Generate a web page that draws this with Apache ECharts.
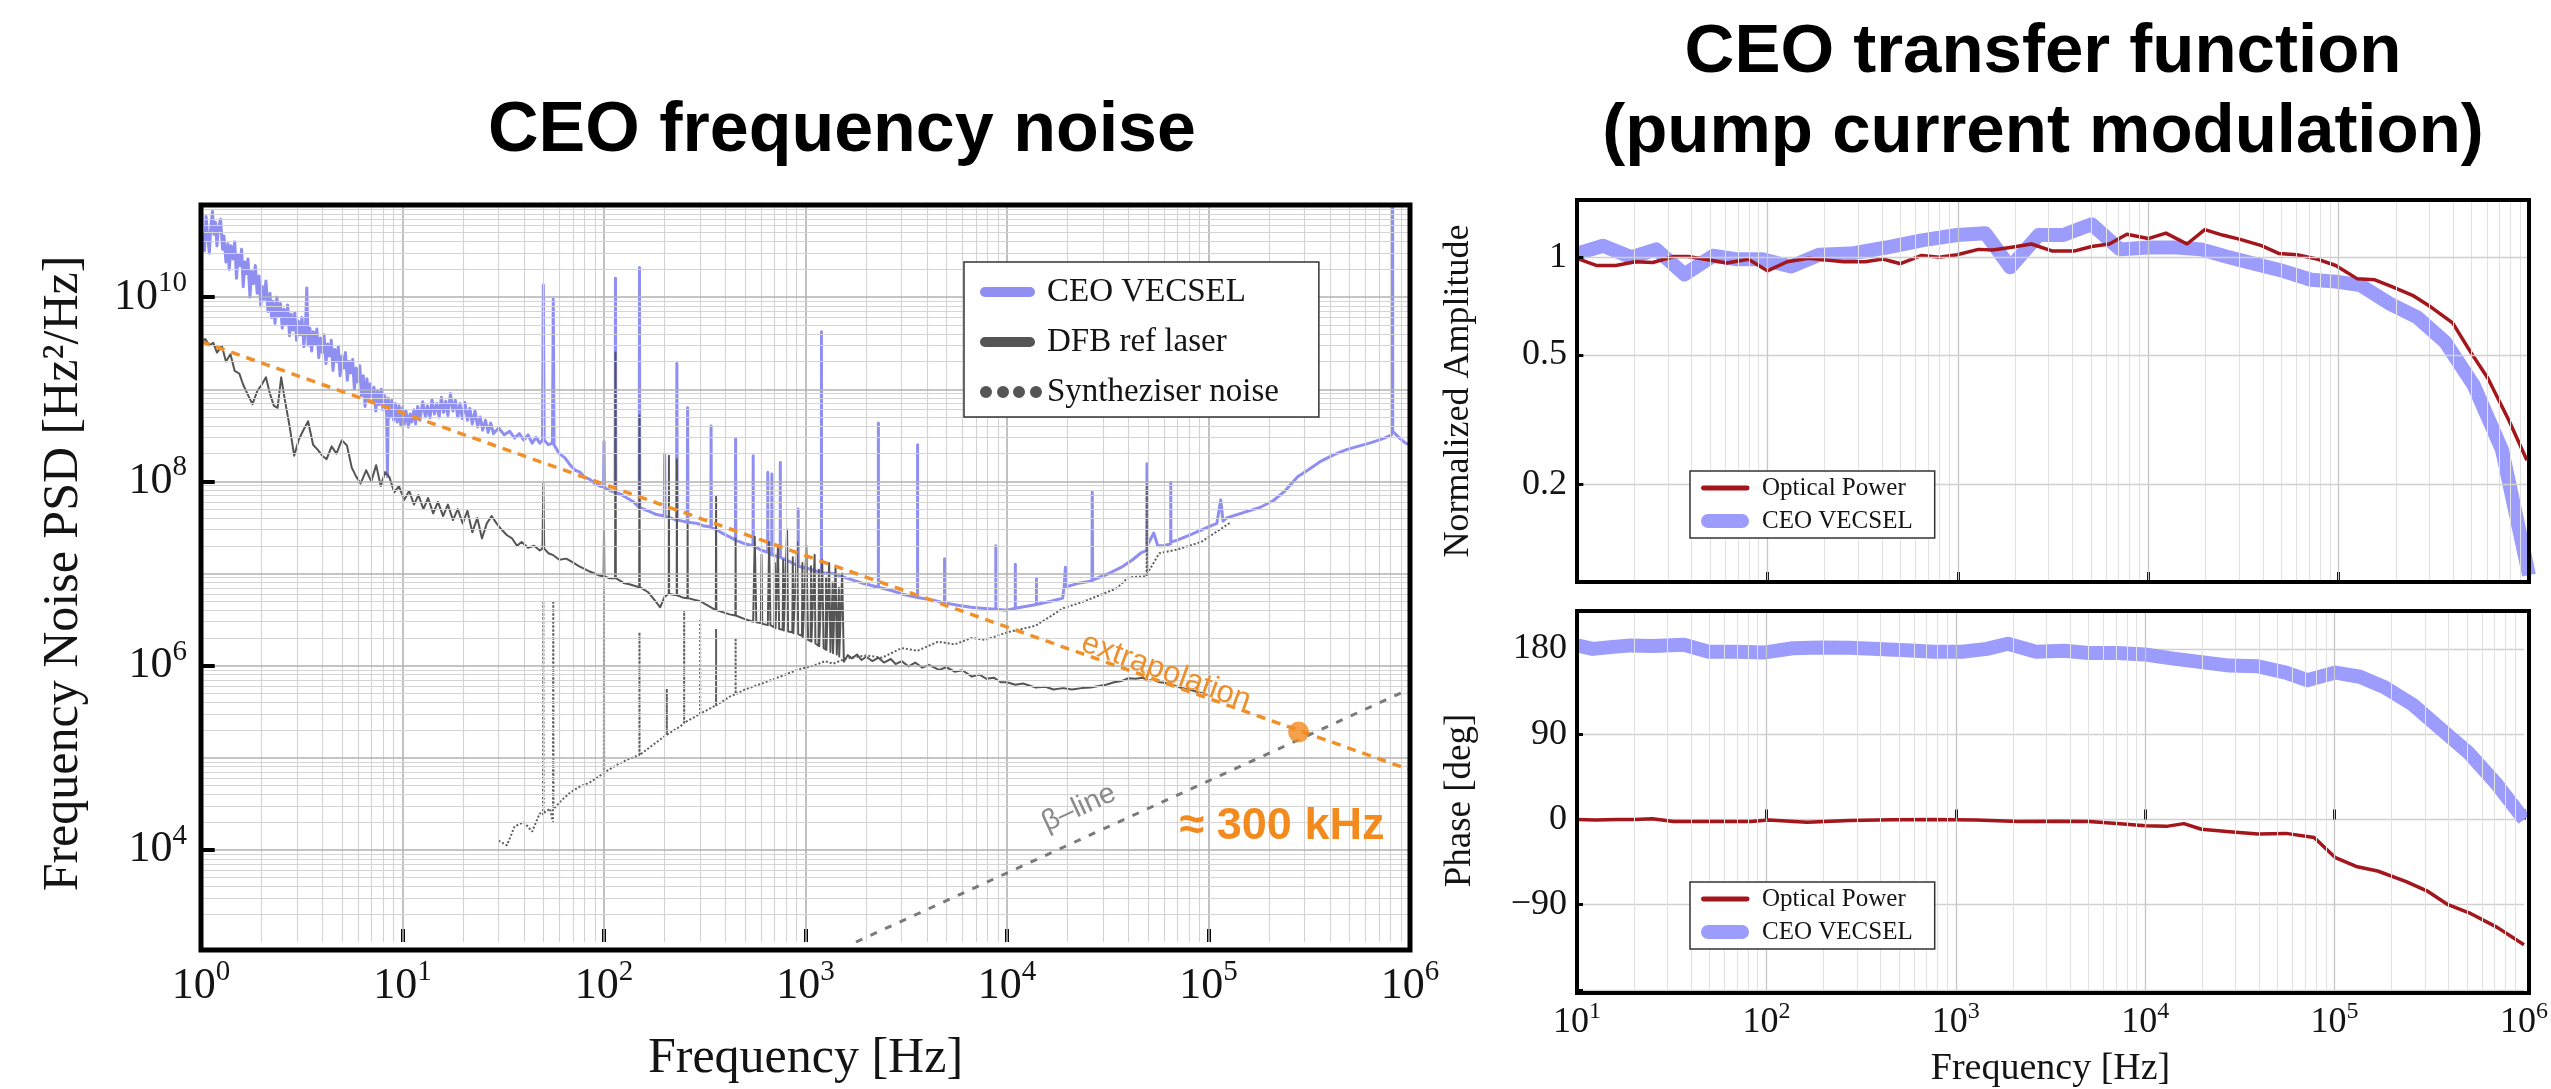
<!DOCTYPE html>
<html>
<head>
<meta charset="utf-8">
<title>CEO frequency noise / CEO transfer function</title>
<script src="https://cdn.jsdelivr.net/npm/echarts@6.0.0/dist/echarts.min.js"></script>
<style>
  html, body { margin: 0; padding: 0; background: #fff; }
  #chart { width: 2551px; height: 1089px; }
</style>
</head>
<body>
<div id="chart"></div>
<script>
// ---- left panel: CEO frequency noise PSD, [Hz, Hz^2/Hz] ----
const vecselNoise = [
  [1.00, 2.8e10], [1.02, 5.0e10], [1.04, 3.2e10], [1.06, 7.5e10], [1.08, 4.5e10], [1.10, 3.0e10],
  [1.12, 6.0e10], [1.14, 8.5e10], [1.16, 4.8e10], [1.18, 6.5e10], [1.20, 3.6e10], [1.22, 5.5e10],
  [1.25, 7.0e10], [1.28, 3.3e10], [1.30, 4.6e10], [1.33, 2.4e10], [1.36, 3.8e10], [1.38, 2.0e10],
  [1.41, 3.6e10], [1.44, 2.6e10], [1.47, 4.0e10], [1.50, 1.6e10], [1.53, 2.9e10], [1.56, 2.2e10],
  [1.59, 3.3e10], [1.62, 1.3e10], [1.65, 2.4e10], [1.68, 1.8e10], [1.71, 2.6e10], [1.75, 1.0e10],
  [1.78, 1.9e10], [1.82, 1.4e10], [1.86, 2.2e10], [1.90, 1.1e10], [1.94, 1.7e10], [1.98, 8.0e9],
  [2.02, 1.3e10], [2.06, 9.5e9], [2.10, 1.5e10], [2.15, 7.0e9], [2.20, 1.1e10], [2.24, 6.0e9],
  [2.28, 9.0e9], [2.33, 5.2e9], [2.38, 1.0e10], [2.43, 6.2e9], [2.48, 8.5e9], [2.53, 4.6e9],
  [2.58, 7.4e9], [2.63, 5.0e9], [2.69, 8.2e9], [2.75, 3.8e9], [2.80, 6.5e9], [2.86, 4.4e9],
  [2.92, 6.8e9], [2.98, 3.4e9], [3.04, 5.5e9], [3.10, 3.9e9], [3.17, 6.0e9], [3.24, 2.9e9],
  [3.30, 4.8e9], [3.35, 1.26e10], [3.40, 3.0e9], [3.47, 4.6e9], [3.54, 2.6e9], [3.61, 4.2e9],
  [3.68, 3.1e9], [3.76, 4.5e9], [3.84, 2.2e9], [3.92, 3.6e9], [4.00, 2.5e9], [4.08, 3.9e9],
  [4.17, 1.9e9], [4.25, 3.1e9], [4.34, 2.3e9], [4.43, 3.4e9], [4.52, 1.6e9], [4.61, 2.7e9],
  [4.71, 2.0e9], [4.80, 2.9e9], [4.90, 1.4e9], [5.00, 2.3e9], [5.11, 1.7e9], [5.21, 2.5e9],
  [5.32, 1.25e9], [5.43, 2.0e9], [5.54, 1.5e9], [5.66, 2.1e9], [5.77, 1.0e9], [5.89, 1.7e9],
  [6.01, 1.2e9], [6.14, 1.8e9], [6.26, 8.5e8], [6.39, 1.4e9], [6.52, 6.5e8], [6.66, 1.3e9],
  [6.79, 8.0e8], [6.93, 1.15e9], [7.08, 7.5e8], [7.22, 1.05e9], [7.37, 5.8e8], [7.52, 9.5e8],
  [7.68, 6.8e8], [7.84, 1.0e9], [8.00, 6.0e8], [8.17, 8.5e8], [8.34, 5.5e8], [8.42, 1.12e8],
  [8.50, 8.0e8], [8.68, 5.0e8], [8.86, 7.6e8], [9.04, 4.6e8], [9.23, 7.0e8], [9.42, 4.4e8],
  [9.62, 6.6e8], [9.82, 4.0e8], [10.0, 6.3e8], [10.2, 4.2e8], [10.4, 5.8e8], [10.7, 3.9e8],
  [10.9, 5.4e8], [11.1, 4.4e8], [11.4, 6.0e8], [11.6, 4.2e8], [11.9, 6.5e8], [12.2, 4.6e8],
  [12.6, 7.3e8], [13.0, 5.0e8], [13.3, 6.6e8], [13.7, 4.9e8], [14.0, 7.8e8], [14.4, 5.4e8],
  [14.8, 7.0e8], [15.2, 5.0e8], [15.6, 8.2e8], [16.0, 5.6e8], [16.4, 7.4e8], [16.8, 5.2e8],
  [17.3, 9.0e8], [17.8, 5.8e8], [18.3, 7.6e8], [18.8, 5.0e8], [19.3, 7.0e8], [19.8, 4.8e8],
  [20.4, 7.2e8], [21.0, 4.6e8], [21.6, 6.2e8], [22.2, 4.2e8], [22.9, 5.8e8], [23.6, 3.9e8],
  [24.3, 5.0e8], [25.0, 3.6e8], [25.8, 4.6e8], [26.6, 3.4e8], [27.4, 4.3e8], [28.3, 3.3e8],
  [30.0, 3.8e8], [32, 3.2e8], [34, 3.5e8], [36, 2.95e8], [38, 3.3e8], [40, 2.8e8],
  [42, 3.2e8], [44, 2.6e8], [46, 3.0e8], [48, 2.6e8], [49.5, 2.8e8], [50, 1.35e10],
  [50.5, 2.8e8], [53, 2.5e8], [55.5, 2.6e8], [56, 9.5e9], [56.5, 2.5e8], [60, 2.0e8],
  [64, 1.8e8], [68, 1.5e8], [72, 1.32e8], [76, 1.26e8], [80, 1.12e8], [85, 1.05e8],
  [90, 9.5e7], [95, 8.9e7], [99.5, 8.7e7], [100, 2.7e8], [100.5, 8.5e7], [108, 7.9e7],
  [113.5, 7.6e7], [114, 1.6e10], [114.5, 7.6e7], [122, 7.2e7], [130, 6.6e7], [140, 6.0e7],
  [149.5, 5.2e7], [150, 2.1e10], [150.5, 5.2e7], [165, 4.8e7], [180, 4.4e7], [199, 4.2e7],
  [200, 2.0e8], [201, 4.2e7], [215, 4.0e7], [229, 3.8e7], [230, 1.9e9], [231, 3.8e7],
  [245, 3.7e7], [259, 3.6e7], [260, 6.3e8], [261, 3.6e7], [290, 3.5e7], [310, 3.3e7],
  [339, 3.2e7], [340, 4.0e8], [341, 3.2e7], [380, 2.8e7], [420, 2.5e7], [449, 2.3e7],
  [450, 2.9e8], [451, 2.3e7], [500, 2.1e7], [549, 2.0e7], [550, 1.9e8], [551, 2.0e7],
  [600, 1.8e7], [649, 1.7e7], [650, 1.26e8], [651, 1.7e7], [680, 1.6e7], [681, 1.2e8],
  [682, 1.6e7], [749, 1.5e7], [750, 1.6e8], [751, 1.5e7], [850, 1.32e7], [919, 1.2e7],
  [920, 5.0e7], [921, 1.2e7], [1050, 1.12e7], [1199, 1.02e7], [1200, 4.2e9], [1201, 1.02e7],
  [1370, 1.0e7], [1600, 8.9e6], [1900, 7.9e6], [2299, 7.1e6], [2300, 4.3e8], [2301, 7.1e6],
  [2700, 6.5e6], [3000, 6.0e6], [3599, 5.5e6], [3600, 2.5e8], [3601, 5.5e6], [4200, 5.2e6],
  [4899, 4.8e6], [4900, 1.45e7], [4901, 4.8e6], [5800, 4.5e6], [6600, 4.3e6], [7500, 4.2e6],
  [8799, 4.1e6], [8800, 2.0e7], [8801, 4.1e6], [10000, 4.0e6], [10999, 4.2e6], [11000, 1.26e7],
  [11001, 4.2e6], [12500, 4.4e6], [13999, 4.6e6], [14000, 8.9e6], [14001, 4.6e6], [16500, 5.0e6],
  [18900, 5.4e6], [19200, 7.2e6], [19500, 1.17e7], [19800, 7.2e6], [23000, 7.9e6], [26400, 8.3e6],
  [26500, 7.6e7], [26600, 8.5e6], [32000, 1.0e7], [37000, 1.17e7], [42000, 1.41e7], [46000, 1.66e7],
  [49400, 1.78e7], [49500, 1.55e8], [49600, 2.0e7], [53500, 2.75e7], [56000, 2.0e7], [60000, 2.0e7],
  [64900, 2.1e7], [65000, 9.8e7], [65100, 2.2e7], [70000, 2.3e7], [80000, 2.6e7], [90000, 2.9e7],
  [100000, 3.2e7], [110000, 3.5e7], [115000, 6.3e7], [118000, 3.7e7], [123000, 4.0e7], [150000, 4.6e7],
  [180000, 5.2e7], [210000, 6.2e7], [240000, 7.9e7], [277000, 1.12e8], [320000, 1.38e8], [362000, 1.66e8],
  [420000, 1.95e8], [480000, 2.2e8], [550000, 2.4e8], [630000, 2.6e8], [700000, 2.8e8], [745000, 2.95e8],
  [810000, 3.2e8], [819000, 3.2e8], [820000, 1.6e11], [821000, 3.5e8], [880000, 3.0e8], [950000, 2.6e8],
  [1000000, 2.5e8]
];

const dfbNoise = [
  [1.0, 3.3e9], [1.05, 3.5e9], [1.1, 3.0e9], [1.15, 3.2e9], [1.2, 2.5e9], [1.27, 2.95e9],
  [1.33, 2.0e9], [1.4, 2.4e9], [1.47, 1.58e9], [1.55, 1.48e9], [1.62, 1.12e9], [1.7, 8.9e8],
  [1.8, 6.9e8], [1.9, 9.5e8], [2.0, 1.12e9], [2.1, 1.35e9], [2.2, 8.9e8], [2.3, 6.6e8],
  [2.4, 6.3e8], [2.5, 1.35e9], [2.6, 7.9e8], [2.75, 4.0e8], [2.9, 1.9e8], [3.05, 2.8e8],
  [3.2, 3.5e8], [3.4, 4.5e8], [3.6, 2.5e8], [3.8, 2.2e8], [4.0, 1.9e8], [4.2, 1.74e8],
  [4.45, 2.4e8], [4.7, 2.0e8], [5.0, 2.8e8], [5.3, 2.45e8], [5.6, 1.41e8], [5.9, 1.12e8],
  [6.2, 9.5e7], [6.6, 1.32e8], [7.0, 1.0e8], [7.4, 1.5e8], [7.8, 8.9e7], [8.2, 1.26e8],
  [8.6, 1.12e8], [9.1, 7.6e7], [9.6, 8.9e7], [10.2, 6.3e7], [10.8, 7.9e7], [11.4, 5.6e7],
  [12.0, 7.1e7], [12.7, 5.0e7], [13.4, 6.6e7], [14.2, 4.5e7], [15.0, 6.0e7], [15.9, 4.2e7],
  [16.8, 5.6e7], [17.8, 3.8e7], [18.8, 5.0e7], [19.9, 3.5e7], [21.0, 4.8e7], [22.2, 2.8e7],
  [23.5, 4.0e7], [24.8, 2.4e7], [26.2, 3.5e7], [27.7, 4.2e7], [29.3, 3.5e7], [31, 3.0e7],
  [33, 2.6e7], [35, 2.4e7], [37, 2.0e7], [39, 2.2e7], [42, 1.9e7], [45, 2.0e7],
  [48, 1.78e7], [49.5, 1.86e7], [50, 9.5e7], [50.5, 1.86e7], [53, 1.66e7], [56, 1.58e7],
  [60, 1.41e7], [65, 1.45e7], [70, 1.32e7], [75, 1.2e7], [80, 1.12e7], [85, 1.05e7],
  [90, 1.0e7], [95, 9.5e6], [99.5, 9.3e6], [100, 2.9e7], [100.5, 9.3e6], [106, 8.9e6],
  [113.5, 8.9e6], [114, 2.5e9], [114.5, 8.9e6], [125, 7.9e6], [135, 7.6e6], [149.5, 7.1e6],
  [150, 5.2e8], [150.5, 7.1e6], [165, 6.3e6], [180, 5.0e6], [190, 4.3e6], [200, 5.6e6],
  [209.5, 6.0e6], [210, 1.9e8], [210.5, 6.0e6], [229.5, 5.8e6], [230, 1.74e8], [230.5, 5.8e6],
  [245, 5.5e6], [259.5, 5.4e6], [260, 3.4e7], [260.5, 5.4e6], [300, 5.0e6], [359, 4.0e6],
  [360, 6.8e7], [361, 4.0e6], [420, 3.6e6], [449, 3.5e6], [450, 2.4e7], [451, 3.5e6],
  [500, 3.2e6], [550, 3.0e6], [560, 2.5e7], [570, 2.95e6], [600, 2.9e6], [605, 1.6e7],
  [610, 2.85e6], [650, 2.75e6], [660, 2.2e7], [670, 2.75e6], [700, 2.6e6], [705, 1.3e7],
  [710, 2.55e6], [730, 2.0e7], [740, 2.5e6], [770, 2.45e6], [775, 1.4e7], [780, 2.4e6],
  [810, 3.0e7], [820, 2.35e6], [860, 2.3e6], [865, 1.5e7], [870, 2.25e6], [910, 2.2e7],
  [920, 2.2e6], [960, 2.1e6], [965, 1.3e7], [970, 2.05e6], [1010, 2.0e7], [1030, 1.9e6],
  [1060, 1.85e6], [1065, 1.2e7], [1070, 1.82e6], [1110, 1.6e7], [1120, 1.74e6], [1160, 1.65e6],
  [1165, 1.1e7], [1170, 1.62e6], [1210, 1.4e7], [1230, 1.55e6], [1260, 1.5e6], [1265, 9.0e6],
  [1270, 1.48e6], [1310, 1.3e7], [1330, 1.41e6], [1360, 1.38e6], [1365, 8.0e6], [1370, 1.36e6],
  [1410, 1.2e7], [1430, 1.32e6], [1460, 1.28e6], [1465, 7.0e6], [1470, 1.26e6], [1520, 1.0e7],
  [1550, 1.1e6], [1620, 1.3e6], [1700, 1.2e6], [1800, 1.32e6], [1900, 1.15e6], [2000, 1.25e6],
  [2150, 1.12e6], [2300, 1.22e6], [2450, 1.08e6], [2650, 1.18e6], [2800, 1.04e6], [3000, 1.12e6],
  [3250, 9.8e5], [3500, 1.08e6], [3800, 9.5e5], [4100, 1.02e6], [4600, 9.0e5], [5000, 9.6e5],
  [5500, 8.6e5], [6000, 8.9e5], [6700, 7.6e5], [7300, 8.0e5], [7900, 7.2e5], [8600, 7.4e5],
  [9300, 6.6e5], [10000, 6.6e5], [11000, 6.2e5], [12000, 6.4e5], [13800, 5.8e5], [15500, 5.9e5],
  [17000, 5.5e5], [19000, 5.7e5], [21000, 5.5e5], [23500, 5.7e5], [26000, 5.8e5], [28500, 6.0e5],
  [31000, 6.2e5], [34000, 6.6e5], [37000, 6.8e5], [40000, 7.3e5], [43500, 7.2e5], [47000, 7.4e5],
  [50000, 6.9e5], [53500, 7.0e5], [57000, 6.6e5], [61000, 6.5e5], [66000, 6.2e5], [72000, 5.8e5],
  [79000, 5.5e5], [85000, 5.3e5], [90000, 5.1e5], [98000, 4.9e5]
];

const synthNoise = [
  [30, 1.26e4], [33, 1.12e4], [36, 1.8e4], [40, 2.0e4], [44, 1.58e4], [48, 2.5e4],
  [49.8, 2.4e4], [50, 5.1e6], [50.2, 2.5e4], [54, 2.8e4], [55.8, 2.0e4], [56, 5.1e6],
  [56.2, 2.8e4], [62, 3.5e4], [68, 4.2e4], [75, 4.8e4], [85, 5.4e4], [95, 6.3e4],
  [99.8, 6.9e4], [100, 7.2e6], [100.2, 6.9e4], [115, 8.3e4], [130, 9.5e4], [149.8, 1.07e5],
  [150, 2.3e6], [150.2, 1.07e5], [175, 1.38e5], [204.8, 1.78e5], [205, 5.6e5], [205.2, 1.78e5],
  [240, 2.2e5], [249.8, 2.4e5], [250, 4.0e6], [250.2, 2.4e5], [280, 2.75e5], [299.8, 3.0e5],
  [300, 3.2e6], [300.2, 3.0e5], [350, 3.6e5], [359.8, 3.7e5], [360, 2.5e6], [360.2, 3.7e5],
  [420, 4.6e5], [449.8, 4.9e5], [450, 2.0e6], [450.2, 4.9e5], [500, 5.5e5], [620, 6.5e5],
  [750, 7.6e5], [920, 9.1e5], [1100, 1.0e6], [1250, 1.12e6], [1370, 1.05e6], [1600, 1.2e6],
  [2000, 1.29e6], [2400, 1.22e6], [3000, 1.55e6], [3600, 1.45e6], [4550, 1.82e6], [5500, 1.7e6],
  [6700, 2.0e6], [7800, 1.9e6], [8900, 2.1e6], [10000, 2.3e6], [13800, 2.7e6], [16000, 3.3e6],
  [19000, 4.2e6], [23700, 4.9e6], [35000, 6.9e6], [40000, 9.1e6], [49300, 9.3e6], [49500, 9.3e7],
  [49700, 1.0e7], [57000, 1.66e7], [70000, 1.82e7], [92000, 2.2e7], [129000, 3.6e7]
];

const extrapolationLine = [[1, 3.3e9], [1e6, 7.4e4]];
const betaLine = [[1780, 1.0e3], [1e6, 5.6e5]];
const crossingPoint = [[2.8e5, 1.9e5]];

// ---- right panels: transfer function, [Hz, normalized amplitude] and [Hz, deg] ----
const vecselAmp = [
  [10, 1.026], [13.7, 1.085], [19.3, 1.0], [26.1, 1.057], [36.7, 0.885], [51.8, 1.01],
  [69.8, 0.985], [94.2, 0.985], [133, 0.936], [187, 1.018], [275, 1.026], [421, 1.071],
  [646, 1.127], [991, 1.17], [1396, 1.185], [1884, 0.931], [2653, 1.17], [3580, 1.17],
  [5046, 1.263], [7100, 1.057], [10000, 1.071], [14090, 1.071], [19000, 1.057], [25640, 1.005],
  [36120, 0.955], [50800, 0.908], [71600, 0.852], [96600, 0.841], [130000, 0.82], [183600, 0.722],
  [258700, 0.653], [364000, 0.547], [513000, 0.403], [722000, 0.255], [1000000, 0.105]
];
const opticalAmp = [
  [10, 0.992], [12.6, 0.943], [16, 0.943], [20.2, 0.968], [25, 0.963], [32.3, 1.005],
  [38.3, 1.005], [49.6, 0.98], [61.4, 0.96], [79.4, 0.985], [100, 0.908], [127, 0.968],
  [164, 0.992], [204, 0.98], [252, 0.968], [326, 0.968], [404, 0.987], [500, 0.955],
  [646, 1.013], [800, 1.0], [991, 1.018], [1282, 1.057], [1521, 1.052], [1884, 1.071],
  [2437, 1.098], [3148, 1.044], [4074, 1.044], [5046, 1.079], [6252, 1.098], [7727, 1.176],
  [10000, 1.141], [12390, 1.186], [16000, 1.098], [19820, 1.216], [24550, 1.17], [30400, 1.135],
  [39360, 1.085], [48750, 1.026], [60390, 1.018], [78000, 0.985], [96600, 0.943], [125000, 0.859],
  [155000, 0.852], [192000, 0.81], [248000, 0.76], [307000, 0.701], [397000, 0.628], [491000, 0.513],
  [608000, 0.424], [787000, 0.313], [975000, 0.237]
];
const vecselPhase = [
  [10, 183.7], [12.1, 180], [15, 181.9], [19.3, 183.7], [25, 183], [36.7, 184.4],
  [49.6, 177], [69.8, 177], [98.4, 176.3], [138, 180.7], [195, 181.5], [275, 181.2],
  [387, 180], [545, 178.5], [767, 177], [1080, 177], [1458, 180], [1884, 185.5],
  [2653, 177], [3735, 178], [5046, 175.6], [7100, 175.6], [10000, 174.1], [14090, 169.7],
  [19820, 166], [27900, 162.4], [39360, 161.6], [55370, 155], [71600, 147], [101000, 155],
  [136000, 150.6], [183600, 139.6], [258700, 121.2], [364000, 95.5], [513000, 69.8],
  [722000, 36.7], [1000000, 0]
];
const opticalPhase = [
  [10, 0], [12.6, -0.7], [16.3, 0], [20.2, 0], [25, 0.7], [32.3, -2.2],
  [49.6, -2.2], [82.8, -2.2], [103, -0.7], [164, -2.9], [275, -1.1], [459, -0.4],
  [767, 0], [1282, -0.7], [2143, -2.2], [3580, -1.8], [5046, -2.2], [7100, -4.4],
  [10000, -6.6], [12940, -7.3], [16000, -4.4], [19820, -10.3], [27900, -12.9], [39360, -15.4],
  [55370, -14.7], [78000, -19.1], [101000, -40.4], [130000, -49.6], [168700, -54.4], [237000, -65.4],
  [307000, -75.3], [397000, -90], [513000, -98.5], [722000, -113.9], [1000000, -132.3]
];

const ampTicks = [1, 0.5, 0.2];
const phaseTicks = [180, 90, 0, -90];
const psdLabelExps = [4, 6, 8, 10];

// ---- layout ----
const GRID_L = { left: 201, top: 205, width: 1209, height: 745 };
const GRID_A = { left: 1577, top: 200, width: 952, height: 382 };
const GRID_P = { left: 1577, top: 611, width: 952, height: 382 };

const SERIF = 'Liberation Serif';
const SANS = 'Liberation Sans';
const INK = '#141414';

function supRich(base, sup) {
  return {
    b: { fontFamily: SERIF, fontSize: base, lineHeight: Math.round(base * 1.28), color: INK },
    s: { fontFamily: SERIF, fontSize: sup, lineHeight: sup, verticalAlign: 'top', color: INK }
  };
}
function powLabel(v) {
  return '{b|10}{s|' + Math.round(Math.log10(v)) + '}';
}

// log grid (decades + 2..9 minors) drawn as markLines
function logLines(dim, loExp, hiExp, major, minor) {
  const out = [];
  for (let e = loExp; e <= hiExp; e++) {
    const base = Math.pow(10, e);
    if (e > loExp && e < hiExp) out.push({ [dim]: base, lineStyle: major });
    if (e < hiExp) {
      for (let m = 2; m <= 9; m++) out.push({ [dim]: m * base, lineStyle: minor });
    }
  }
  return out;
}
const majL = { color: '#b2b2b2', width: 1.6, type: 'solid' };
const minL = { color: '#d4d4d4', width: 1.1, type: 'solid' };
const majR = { color: '#c6c6c6', width: 1.3, type: 'solid' };
const minR = { color: '#e2e2e2', width: 1, type: 'solid' };
const tickStyle = { color: '#000', width: 4, type: 'solid' };

const leftGrid = logLines('xAxis', 0, 6, majL, minL).concat(logLines('yAxis', 3, 11, majL, minL));
psdLabelExps.forEach(e => {
  const v = Math.pow(10, e);
  leftGrid.push([{ coord: [1, v], lineStyle: tickStyle }, { coord: [1.17, v] }]);
});

const ampGrid = logLines('xAxis', 1, 6, majR, minR);
ampTicks.forEach(v => {
  ampGrid.push({
    yAxis: v,
    lineStyle: { color: '#d0d0d0', width: 1.3, type: 'solid' },
    label: { show: true, position: 'start', distance: 10, formatter: String(v),
             fontFamily: SERIF, fontSize: 36, color: INK }
  });
  ampGrid.push([{ coord: [10, v], lineStyle: { color: '#000', width: 3, type: 'solid' } }, { coord: [10.8, v] }]);
});
const phaseGrid = logLines('xAxis', 1, 6, majR, minR);

function helper(xi, yi, lines) {
  return {
    name: 'grid' + xi, type: 'line', xAxisIndex: xi, yAxisIndex: yi, data: [], z: 1, silent: true,
    markLine: { silent: true, animation: false, symbol: ['none', 'none'], label: { show: false },
                lineStyle: { type: 'solid' }, data: lines }
  };
}
function curve(name, xi, yi, data, color, width, extra) {
  return Object.assign({
    name: name, type: 'line', xAxisIndex: xi, yAxisIndex: yi, data: data,
    showSymbol: false, symbol: 'none', color: color,
    lineStyle: { color: color, width: width, join: 'round' }
  }, extra || {});
}
function frame(g, w) {
  return { type: 'rect', z: 50, silent: true,
           shape: { x: g.left, y: g.top, width: g.width, height: g.height },
           style: { fill: 'none', stroke: '#000', lineWidth: w } };
}

const BLUE_L = '#8f8ff2';
const BLUE_R = '#9c9cfd';
const GRAY = '#555555';
const RED = '#a3161c';
const ORANGE = '#f0902a';

const pillLeft = 'path://M5,2 H50 A5,5 0 0 1 50,12 H5 A5,5 0 0 1 5,2 Z M0,0 M62,14';
const dotsLeft = 'path://M0,7 a6,6 0 1,0 12,0 a6,6 0 1,0 -12,0 Z M17,7 a6,6 0 1,0 12,0 a6,6 0 1,0 -12,0 Z ' +
                 'M33,7 a6,6 0 1,0 12,0 a6,6 0 1,0 -12,0 Z M50,7 a6,6 0 1,0 12,0 a6,6 0 1,0 -12,0 Z M0,0 M62,14';
const barRight = 'path://M2,7.5 H46 A2.5,2.5 0 0 1 46,12.5 H2 A2.5,2.5 0 0 1 2,7.5 Z M0,0 M56,20';
const pillRight = 'path://M7,3 H41 A7,7 0 0 1 41,17 H7 A7,7 0 0 1 7,3 Z M0,0 M56,20';

function rightLegend(top) {
  return {
    orient: 'vertical', left: 1690, top: top, z: 60,
    padding: [4, 22, 4, 11], itemGap: 7, itemWidth: 56, itemHeight: 20,
    backgroundColor: '#fff', borderColor: '#333', borderWidth: 1.5,
    textStyle: { fontFamily: SERIF, fontSize: 25, color: INK, lineHeight: 26 },
    data: [
      { name: 'Optical Power', icon: barRight, itemStyle: { color: RED, borderWidth: 0 } },
      { name: 'CEO VECSEL', icon: pillRight, itemStyle: { color: BLUE_R, borderWidth: 0 } }
    ]
  };
}

const chart = echarts.init(document.getElementById('chart'), null, { renderer: 'canvas' });
chart.setOption({
  animation: false,
  backgroundColor: '#ffffff',
  grid: [GRID_L, GRID_A, GRID_P],
  xAxis: [
    {
      type: 'log', logBase: 10, gridIndex: 0, min: 1, max: 1e6, splitNumber: 6,
      name: 'Frequency [Hz]', nameLocation: 'middle', nameGap: 92,
      nameTextStyle: { fontFamily: SERIF, fontSize: 50, color: INK },
      axisLine: { show: false },
      axisTick: { show: true, inside: true, length: 13, lineStyle: { color: '#000', width: 4 } },
      axisLabel: { margin: 16, formatter: powLabel, rich: supRich(44, 29) },
      splitLine: { show: false }
    },
    {
      type: 'log', logBase: 10, gridIndex: 1, min: 10, max: 1e6, splitNumber: 5,
      axisLine: { show: false },
      axisTick: { show: true, inside: true, length: 10, lineStyle: { color: '#000', width: 3 } },
      axisLabel: { show: false },
      splitLine: { show: false }
    },
    {
      type: 'log', logBase: 10, gridIndex: 2, min: 10, max: 1e6, splitNumber: 5,
      name: 'Frequency [Hz]', nameLocation: 'middle', nameGap: 60,
      nameTextStyle: { fontFamily: SERIF, fontSize: 38, color: INK },
      axisLine: { show: false },
      axisTick: { show: true, inside: true, length: 10, lineStyle: { color: '#000', width: 3 } },
      axisLabel: { margin: 10, formatter: powLabel, rich: supRich(36, 24) },
      splitLine: { show: false }
    }
  ],
  yAxis: [
    {
      type: 'log', logBase: 10, gridIndex: 0, min: 1e3, max: 1e11,
      name: 'Frequency Noise PSD [Hz\u00b2/Hz]', nameLocation: 'middle', nameGap: 112,
      nameTextStyle: { fontFamily: SERIF, fontSize: 50, color: INK },
      axisLine: { show: false },
      axisTick: { show: false },
      axisLabel: {
        margin: 14,
        formatter: v => (psdLabelExps.indexOf(Math.round(Math.log10(v))) >= 0 ? powLabel(v) : ''),
        rich: supRich(44, 29)
      },
      splitLine: { show: false }
    },
    {
      type: 'log', logBase: 10, gridIndex: 1, min: 0.1, max: 1.5,
      name: 'Normalized Amplitude', nameLocation: 'middle', nameGap: 100,
      nameTextStyle: { fontFamily: SERIF, fontSize: 36, color: INK },
      axisLine: { show: false }, axisTick: { show: false }, axisLabel: { show: false },
      splitLine: { show: false }
    },
    {
      type: 'value', gridIndex: 2, min: -180, max: 220, interval: 90,
      name: 'Phase [deg]', nameLocation: 'middle', nameGap: 98,
      nameTextStyle: { fontFamily: SERIF, fontSize: 37, color: INK },
      axisLine: { show: false },
      axisTick: { show: true, inside: true, length: 6, lineStyle: { color: '#000', width: 3 } },
      axisLabel: {
        margin: 10, fontFamily: SERIF, fontSize: 36, color: INK,
        formatter: v => (phaseTicks.indexOf(v) >= 0 ? (v < 0 ? '\u2212' + Math.abs(v) : String(v)) : '')
      },
      splitLine: { show: true, lineStyle: { color: '#d0d0d0', width: 1.3 } }
    }
  ],
  legend: [
    {
      orient: 'vertical', left: 964, top: 262, z: 60,
      padding: [11, 40, 6, 16], itemGap: 12, itemWidth: 62, itemHeight: 14,
      backgroundColor: '#fff', borderColor: '#333', borderWidth: 1.5,
      textStyle: { fontFamily: SERIF, fontSize: 33, color: INK, lineHeight: 38 },
      data: [
        { name: 'CEO VECSEL', icon: pillLeft, itemStyle: { color: BLUE_L, borderWidth: 0 } },
        { name: 'DFB ref laser', icon: pillLeft, itemStyle: { color: GRAY, borderWidth: 0 } },
        { name: 'Syntheziser noise', icon: dotsLeft, itemStyle: { color: GRAY, borderWidth: 0 } }
      ]
    },
    rightLegend(471),
    rightLegend(882)
  ],
  series: [
    helper(0, 0, leftGrid),
    curve('CEO VECSEL', 0, 0, vecselNoise, BLUE_L, 3, { z: 2 }),
    curve('Syntheziser noise', 0, 0, synthNoise, GRAY, 2, { z: 3, lineStyle: { color: '#5e5e5e', width: 2, type: 'dotted' } }),
    curve('DFB ref laser', 0, 0, dfbNoise, GRAY, 2, { z: 4 }),
    curve('extrapolation', 0, 0, extrapolationLine, ORANGE, 3.5, { z: 5, lineStyle: { color: ORANGE, width: 3.5, type: [9, 7] } }),
    curve('\u03b2-line', 0, 0, betaLine, '#7a7a7a', 3, { z: 5, lineStyle: { color: '#7a7a7a', width: 3, type: [7, 9] } }),
    { name: 'crossing', type: 'scatter', xAxisIndex: 0, yAxisIndex: 0, data: crossingPoint,
      symbolSize: 21, itemStyle: { color: '#f28a1e' }, z: 6 },

    helper(1, 1, ampGrid),
    curve('CEO VECSEL', 1, 1, vecselAmp, BLUE_R, 14, { z: 2 }),
    curve('Optical Power', 1, 1, opticalAmp, RED, 3.5, { z: 3 }),

    helper(2, 2, phaseGrid),
    curve('CEO VECSEL', 2, 2, vecselPhase, BLUE_R, 14, { z: 2 }),
    curve('Optical Power', 2, 2, opticalPhase, RED, 3.5, { z: 3 })
  ],
  graphic: [
    frame(GRID_L, 5), frame(GRID_A, 4), frame(GRID_P, 4),
    { type: 'text', x: 842, y: 132, z: 100,
      style: { text: 'CEO frequency noise', fontFamily: SANS, fontWeight: 'bold', fontSize: 70, fill: '#000', align: 'center', verticalAlign: 'middle' } },
    { type: 'text', x: 2043, y: 53, z: 100,
      style: { text: 'CEO transfer function', fontFamily: SANS, fontWeight: 'bold', fontSize: 69, fill: '#000', align: 'center', verticalAlign: 'middle' } },
    { type: 'text', x: 2043, y: 133, z: 100,
      style: { text: '(pump current modulation)', fontFamily: SANS, fontWeight: 'bold', fontSize: 69, fill: '#000', align: 'center', verticalAlign: 'middle' } },
    { type: 'text', x: 1166, y: 672, rotation: -0.345, z: 100,
      style: { text: 'extrapolation', fontFamily: SANS, fontSize: 31, fill: '#ef8f2c', align: 'center', verticalAlign: 'middle' } },
    { type: 'text', x: 1079, y: 808, rotation: 0.433, z: 100,
      style: { text: '\u03b2\u2013line', fontFamily: SANS, fontSize: 29, fill: '#8a8a8a', align: 'center', verticalAlign: 'middle' } },
    { type: 'text', x: 1282, y: 827, z: 100,
      style: { text: '\u2248 300 kHz', fontFamily: SANS, fontWeight: 'bold', fontSize: 45, fill: '#f28a1e', align: 'center', verticalAlign: 'middle' } }
  ]
});
</script>
</body>
</html>
